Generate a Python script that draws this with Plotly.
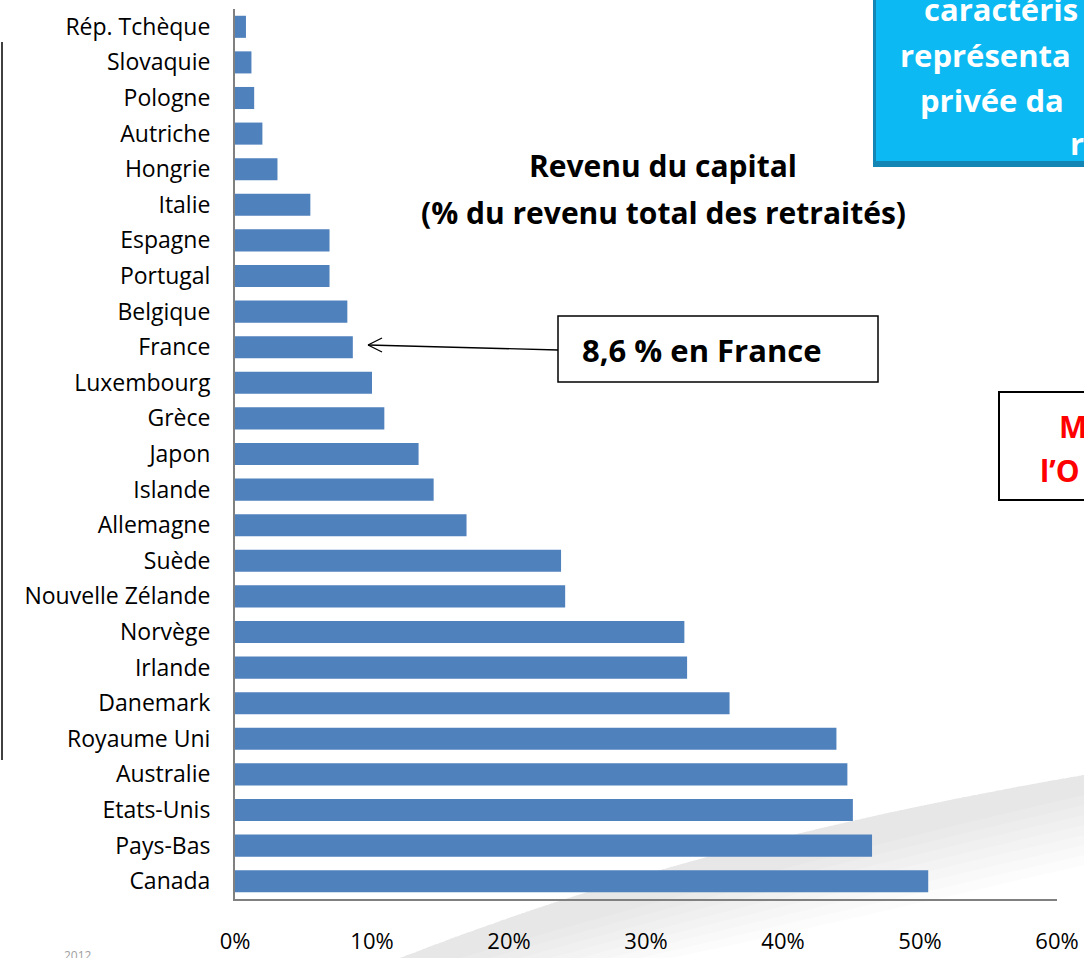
import plotly.graph_objects as go

countries = ["Rép. Tchèque", "Slovaquie", "Pologne", "Autriche", "Hongrie", "Italie",
             "Espagne", "Portugal", "Belgique", "France", "Luxembourg", "Grèce", "Japon",
             "Islande", "Allemagne", "Suède", "Nouvelle Zélande", "Norvège", "Irlande",
             "Danemark", "Royaume Uni", "Australie", "Etats-Unis", "Pays-Bas", "Canada"]
values = [0.8, 1.2, 1.4, 2.0, 3.1, 5.5, 6.9, 6.9, 8.2, 8.6, 10.0, 10.9, 13.4,
          14.5, 16.9, 23.8, 24.1, 32.8, 33.0, 36.1, 43.9, 44.7, 45.1, 46.5, 50.6]
x_ticks = [0, 10, 20, 30, 40, 50, 60]
title_lines = ["Revenu du capital", "(% du revenu total des retraités)"]
callout_text = "8,6 % en France"
blue_box_lines = ["caractéris", "représenta", "privée da", "r"]
red_box_lines = ["M", "l’O"]

W, H = 1084, 958
L, R, T, B = 235, 1057, 9, 899


def px(x):
    return (x - L) / (R - L)


def py(y):
    return (B - y) / (B - T)


FONT = "Open Sans"

fig = go.Figure(go.Bar(
    x=values, y=countries, orientation="h",
    marker=dict(color="#4F81BD", line=dict(width=0)),
    width=0.62,
))

shapes = []
annotations = []

# background swoosh (soft gray gradient band)
for k in range(8):
    d = 90 - 10 * k
    shapes.append(dict(
        type="path", xref="paper", yref="paper", layer="below",
        path=f"M {px(400)},{py(958)} Q {px(700)},{py(840)} {px(1084)},{py(775)} "
             f"L {px(1084)},{py(775 + d)} Q {px(760)},{py(850 + d)} {px(400 + 3 * d)},{py(958)} Z",
        fillcolor="rgba(190,190,190,0.045)", line=dict(width=0),
    ))

# left slide line
shapes.append(dict(type="line", xref="paper", yref="paper",
                   x0=px(2), x1=px(2), y0=py(42), y1=py(760),
                   line=dict(color="#000000", width=1.5)))

# blue box with shadow
shapes.append(dict(type="rect", xref="paper", yref="paper",
                   x0=px(873), x1=px(1100), y0=py(-10), y1=py(167),
                   fillcolor="#1486B5", line=dict(width=0)))
shapes.append(dict(type="rect", xref="paper", yref="paper",
                   x0=px(876), x1=px(1100), y0=py(-10), y1=py(161),
                   fillcolor="#0DB9F2", line=dict(width=0)))

# red box border
shapes.append(dict(type="rect", xref="paper", yref="paper",
                   x0=px(999), x1=px(1100), y0=py(392), y1=py(500),
                   fillcolor="rgba(0,0,0,0)", line=dict(color="#000000", width=2)))

# callout box
shapes.append(dict(type="rect", xref="paper", yref="paper",
                   x0=px(558), x1=px(878), y0=py(316), y1=py(382),
                   fillcolor="#FFFFFF", line=dict(color="#000000", width=1.5)))

# arrow
ax0, ay0 = 558, 350
hx, hy = 368, 345
shapes.append(dict(type="line", xref="paper", yref="paper",
                   x0=px(ax0), y0=py(ay0), x1=px(hx), y1=py(hy),
                   line=dict(color="#000000", width=1.3)))
shapes.append(dict(type="line", xref="paper", yref="paper",
                   x0=px(hx), y0=py(hy), x1=px(hx + 14), y1=py(hy - 7),
                   line=dict(color="#000000", width=1.3)))
shapes.append(dict(type="line", xref="paper", yref="paper",
                   x0=px(hx), y0=py(hy), x1=px(hx + 14), y1=py(hy + 7),
                   line=dict(color="#000000", width=1.3)))

# title
for i, t in enumerate(title_lines):
    annotations.append(dict(text=f"<b>{t}</b>", xref="paper", yref="paper",
                            x=px(663), y=py(166 + 46 * i), xanchor="center", yanchor="middle",
                            showarrow=False, font=dict(family=FONT, size=30, color="#000000")))

annotations.append(dict(text=f"<b>{callout_text}</b>", xref="paper", yref="paper",
                        x=px(580), y=py(350), xanchor="left", yanchor="middle",
                        showarrow=False, font=dict(family=FONT, size=31, color="#000000")))

blue_pos = [(922, 9), (898, 55), (918, 100), (1068, 143)]
for t, (bx, by) in zip(blue_box_lines, blue_pos):
    annotations.append(dict(text=f"<b>{t}</b>", xref="paper", yref="paper",
                            x=px(bx), y=py(by), xanchor="left", yanchor="middle",
                            showarrow=False, font=dict(family=FONT, size=31, color="#FFFFFF")))

red_pos = [(1057, 426), (1038, 470)]
for t, (bx, by) in zip(red_box_lines, red_pos):
    annotations.append(dict(text=f"<b>{t}</b>", xref="paper", yref="paper",
                            x=px(bx), y=py(by), xanchor="left", yanchor="middle",
                            showarrow=False, font=dict(family=FONT, size=30, color="#FF0000")))

annotations.append(dict(text="2012", xref="paper", yref="paper",
                        x=px(62), y=py(956), xanchor="left", yanchor="middle",
                        showarrow=False, font=dict(family=FONT, size=12, color="#A0A0A0")))

fig.update_layout(
    width=W, height=H,
    margin=dict(l=L, r=W - R, t=T, b=H - B, pad=0, autoexpand=False),
    paper_bgcolor="#FFFFFF", plot_bgcolor="rgba(0,0,0,0)",
    showlegend=False,
    bargap=0.38,
    font=dict(family=FONT, size=20, color="#000000"),
    xaxis=dict(range=[0, 60], tickvals=x_ticks, ticktext=[f"{v}%" for v in x_ticks],
               showgrid=False, zeroline=False, showline=True, linecolor="#808080",
               linewidth=2, ticks="", ticklabelstandoff=22, automargin=False,
               tickfont=dict(family=FONT, size=22, color="#000000")),
    yaxis=dict(autorange="reversed", showgrid=False, zeroline=False, showline=True,
               linecolor="#808080", linewidth=2, ticks="", ticklabelstandoff=18,
               automargin=False,
               tickfont=dict(family=FONT, size=23, color="#000000")),
    shapes=shapes,
    annotations=annotations,
)

fig.write_html("out.html", config={"displayModeBar": False},
               post_script="document.body.style.margin='0';document.body.style.overflow='hidden';")
